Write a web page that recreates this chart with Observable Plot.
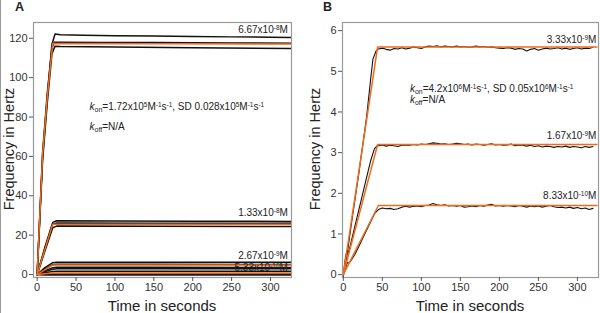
<!DOCTYPE html>
<html><head><meta charset="utf-8">
<script src="https://cdn.jsdelivr.net/npm/d3@7"></script>
<script src="https://cdn.jsdelivr.net/npm/@observablehq/plot@0.6"></script>
<style>
html,body{margin:0;padding:0;background:#fff;}
#wrap{position:relative;width:600px;height:313px;overflow:hidden;font-family:"Liberation Sans",Arial,sans-serif;color:#222;}
.panel{position:absolute;top:0;width:300px;height:313px;}
.lab{position:absolute;white-space:nowrap;line-height:1;}
.conc{font-size:10px;transform:translate(-100%,-50%);}
.ann{font-size:10px;transform:translate(0,-50%);}
sup{font-size:0.65em;vertical-align:0.5em;line-height:0;}
sub{font-size:0.7em;vertical-align:-0.25em;line-height:0;}
.title{position:absolute;font-size:15px;white-space:nowrap;line-height:1;}
.ytitle{font-size:14.5px;}
.letter{position:absolute;font-weight:bold;font-size:12.5px;}
#edge{position:absolute;left:0;top:0;width:1px;height:313px;background:#9a9a9a;}
</style></head>
<body><div id="wrap"><div id="edge"></div></div>
<script>
// ---------- Panel A (6.67e-8, 1.33e-8, 2.67e-9, 5.33e-10 M) ----------
const xTicks = [0, 50, 100, 150, 200, 250, 300];
const yTicksA = [0, 20, 40, 60, 80, 100, 120];
const yTicksB = [0, 1, 2, 3, 4, 5, 6];

const a667Black1 = [[0,0],[7,60],[13,90],[19,117],[23,122.2],[30,121.8],[60,121.5],[100,121.3],[150,121.1],[200,120.9],[250,120.7],[300,120.5],[327,120.4]];
const a667Black2 = [[0,0],[7,62],[13,92],[19,115],[22,118],[30,118],[80,117.8],[150,117.8],[250,117.6],[327,117.5]];
const a667Black3 = [[0,0],[7,58],[13,87],[19,112],[23,116],[30,115.8],[100,115.5],[200,115.2],[327,114.8]];
const a667Fit    = [[0,0],[7,61],[13,90],[20,117.3],[327,117.1]];

const a133Black1 = [[0,0],[10,14],[20,26.5],[25,27.3],[100,27.2],[200,27.1],[327,27.0]];
const a133Black2 = [[0,0],[10,13],[20,25.6],[25,26.2],[150,26.1],[327,26.0]];
const a133Black3 = [[0,0],[10,12],[20,23.8],[25,24.6],[150,24.5],[327,24.4]];
const a133Fit    = [[0,0],[20,25.6],[327,25.5]];

const a267Black1 = [[0,0],[10,3.5],[20,6.0],[25,6.3],[150,6.3],[327,6.2]];
const a267Black2 = [[0,0],[10,2.8],[20,5.0],[25,5.2],[150,5.2],[327,5.1]];
const a267Black3 = [[0,0],[10,2.0],[20,3.5],[25,3.7],[150,3.7],[327,3.6]];
const a267Fit    = [[0,0],[20,4.9],[327,4.9]];

const a533Black1 = [[0,0],[10,1.5],[20,2.7],[25,2.9],[327,2.9]];
const a533Black2 = [[0,0],[10,0.9],[20,1.6],[25,1.7],[327,1.7]];
const a533Black3 = [[0,0],[10,0.2],[20,0.3],[327,0.3]];
const a533Black4 = [[0,0],[10,-0.2],[20,-0.2],[327,-0.2]];
const a533Fit    = [[0,0],[20,0.8],[327,0.8]];

// ---------- Panel B (3.33e-9, 1.67e-9, 8.33e-10 M) ----------
const bRise333 = [[0,-0.05],[5,0.5],[10,1.2],[15,1.85],[20,2.5],[25,3.2],[30,3.9],[35,4.8],[38,5.3],[42,5.5]];
const bRise167 = [[0,0],[3,0.45],[5,0.6],[7,0.55],[10,0.8],[15,1.2],[20,1.6],[25,2.0],[30,2.4],[35,2.8],[40,3.1],[43,3.16]];
const bRise833 = [[0,0],[3,0.15],[5,0.3],[7,0.28],[10,0.35],[15,0.5],[20,0.7],[25,0.9],[30,1.1],[35,1.3],[40,1.5]];
const bPlateauTime = [45,50,55,60,65,70,75,80, 85,90,95,100,105,110,115,120, 125,130,135,140,145,150,155,160,
  165,170,175,180,185,190,195,200, 205,210,215,220,225,230,235,240, 245,250,255,260,265,270,275,280,
  285,290,295,300,305,310,315,320];
const bPlateau333 = [5.55,5.57,5.54,5.52,5.56,5.55,5.58,5.55, 5.57,5.60,5.58,5.56,5.60,5.62,5.61,5.63,
  5.60,5.62,5.61,5.60,5.62,5.60,5.61,5.59, 5.60,5.62,5.60,5.61,5.59,5.60,5.58,5.57,
  5.56,5.58,5.57,5.54,5.56,5.55,5.50,5.54, 5.56,5.52,5.55,5.57,5.55,5.56,5.58,5.55,
  5.57,5.54,5.56,5.58,5.55,5.57,5.56,5.59];
const bPlateau167 = [3.17,3.19,3.16,3.18,3.17,3.15,3.18,3.19, 3.18,3.20,3.19,3.21,3.20,3.22,3.24,3.23,
  3.21,3.22,3.20,3.21,3.23,3.22,3.20,3.21, 3.19,3.21,3.20,3.18,3.20,3.22,3.19,3.20,
  3.18,3.19,3.21,3.17,3.19,3.18,3.16,3.18, 3.15,3.17,3.14,3.16,3.15,3.13,3.15,3.14,
  3.16,3.13,3.15,3.14,3.12,3.15,3.13,3.15];
const bPlateau833 = [1.60,1.64,1.62,1.63,1.60,1.62,1.66,1.68, 1.66,1.68,1.69,1.67,1.70,1.71,1.75,1.72,
  1.70,1.72,1.69,1.70,1.68,1.70,1.66,1.67, 1.69,1.67,1.70,1.68,1.71,1.73,1.69,1.70,
  1.68,1.70,1.69,1.67,1.70,1.68,1.66,1.69, 1.67,1.69,1.66,1.68,1.70,1.67,1.65,1.66,
  1.64,1.66,1.63,1.65,1.62,1.64,1.60,1.63];
const bFit333 = [[0,0],[44,5.6],[325,5.6]];
const bFit167 = [[0,0],[44,3.2],[325,3.2]];
const bFit833 = [[0,0],[45,1.7],[325,1.7]];

// labels
const concA = [{t:323, v:124, html:"6.67x10<sup>-8</sup>M"},{t:323, v:31, html:"1.33x10<sup>-8</sup>M"},
               {t:323, v:9.2, html:"2.67x10<sup>-9</sup>M"},{t:323, v:3.0, html:"5.33x10<sup>-10</sup>M"}];
const concB = [{t:325, v:5.76, html:"3.33x10<sup>-9</sup>M"},{t:325, v:3.40, html:"1.67x10<sup>-9</sup>M"},
               {t:325, v:1.92, html:"8.33x10<sup>-10</sup>M"}];
const annA = [{t:68, v:85, html:"<i>k</i><sub>on</sub>=1.72x10<sup>5</sup>M<sup>-1</sup>s<sup>-1</sup>, SD 0.028x10<sup>5</sup>M<sup>-1</sup>s<sup>-1</sup>"},
              {t:68, v:74.7, html:"<i>k</i><sub>off</sub>=N/A"}];
const annB = [{t:86, v:4.56, html:"<i>k</i><sub>on</sub>=4.2x10<sup>6</sup>M<sup>-1</sup>s<sup>-1</sup>, SD 0.05x10<sup>6</sup>M<sup>-1</sup>s<sup>-1</sup>"},
              {t:86, v:4.27, html:"<i>k</i><sub>off</sub>=N/A"}];

// ---------- build tables ----------
const toRows = (name, pts) => pts.map(([t, v]) => ({name, t, v}));
const blackA = [
  ...toRows("a667-1", a667Black1), ...toRows("a667-2", a667Black2), ...toRows("a667-3", a667Black3),
  ...toRows("a133-1", a133Black1), ...toRows("a133-2", a133Black2), ...toRows("a133-3", a133Black3),
  ...toRows("a267-1", a267Black1), ...toRows("a267-2", a267Black2), ...toRows("a267-3", a267Black3),
  ...toRows("a533-1", a533Black1), ...toRows("a533-2", a533Black2), ...toRows("a533-3", a533Black3), ...toRows("a533-4", a533Black4)];
const fitA = [...toRows("f667", a667Fit), ...toRows("f133", a133Fit), ...toRows("f267", a267Fit), ...toRows("f533", a533Fit)];
const plateau = (vals) => bPlateauTime.map((t, i) => [t, vals[i]]);
const blackB = [
  ...toRows("b333", [...bRise333, ...plateau(bPlateau333)]),
  ...toRows("b167", [...bRise167, ...plateau(bPlateau167)]),
  ...toRows("b833", [...bRise833, ...plateau(bPlateau833)])];
const fitB = [...toRows("f333", bFit333), ...toRows("f167", bFit167), ...toRows("f833", bFit833)];

const FONT = "Liberation Sans, Arial, sans-serif";
const ORANGE = "#f26a1b";

function makePanel(opts) {
  return Plot.plot({
    width: 300, height: 313,
    marginLeft: opts.ml, marginRight: opts.mr, marginTop: 22, marginBottom: 36,
    style: {fontFamily: FONT, fontSize: "11px", color: "#333", background: "transparent", overflow: "visible"},
    x: {domain: opts.xd},
    y: {domain: opts.yd},
    marks: [
      Plot.line(opts.black, {x: "t", y: "v", z: "name", stroke: "#111", strokeWidth: opts.bw, clip: true}),
      Plot.line(opts.fit, {x: "t", y: "v", z: "name", stroke: ORANGE, strokeWidth: 1.5, clip: true}),
      Plot.frame({stroke: "#9a9a9a", strokeWidth: 1.2}),
      Plot.axisX({ticks: xTicks, tickFormat: d => String(d), tickSize: 4, tickPadding: 2, label: null, stroke: "#555"}),
      Plot.axisY({ticks: opts.yt, tickFormat: d => String(d), tickSize: 4, tickPadding: 2, label: null, stroke: "#555"})
    ]
  });
}

const wrap = document.getElementById("wrap");
function addPanel(left, plot, conc, ann, letter, titleXc, yTitleX) {
  const div = document.createElement("div");
  div.className = "panel"; div.style.left = left + "px";
  div.appendChild(plot);
  wrap.appendChild(div);
  const sx = plot.scale("x"), sy = plot.scale("y");
  for (const c of conc) {
    const l = document.createElement("div");
    l.className = "lab conc"; l.innerHTML = c.html;
    l.style.left = (left + sx.apply(c.t)) + "px"; l.style.top = sy.apply(c.v) + "px";
    wrap.appendChild(l);
  }
  for (const a of ann) {
    const l = document.createElement("div");
    l.className = "lab ann"; l.innerHTML = a.html;
    l.style.left = (left + sx.apply(a.t)) + "px"; l.style.top = sy.apply(a.v) + "px";
    wrap.appendChild(l);
  }
  const L = document.createElement("div");
  L.className = "letter"; L.textContent = letter;
  L.style.left = (left + (letter === "A" ? 15 : 23)) + "px"; L.style.top = "0px";
  wrap.appendChild(L);
  const tx = document.createElement("div");
  tx.className = "title"; tx.textContent = "Time in seconds";
  tx.style.left = (left + titleXc) + "px"; tx.style.top = "305px";
  tx.style.transform = "translate(-50%,-50%)";
  wrap.appendChild(tx);
  const ty = document.createElement("div");
  ty.className = "title ytitle"; ty.textContent = "Frequency in Hertz";
  ty.style.left = (left + yTitleX) + "px"; ty.style.top = "149px";
  ty.style.transform = "translate(-50%,-50%) rotate(-90deg)";
  wrap.appendChild(ty);
}

const plotA = makePanel({ml: 33, mr: 9, xd: [-4.7, 327], yd: [-1.5, 128], yt: yTicksA, black: blackA, fit: fitA, bw: 1.5});
addPanel(0, plotA, concA, annA, "A", 162, 9);
const plotB = makePanel({ml: 42, mr: 2, xd: [-1, 327], yd: [-0.07, 6.2], yt: yTicksB, black: blackB, fit: fitB, bw: 1.1});
addPanel(300, plotB, concB, annB, "B", 170, 15);
</script>
</body></html>
